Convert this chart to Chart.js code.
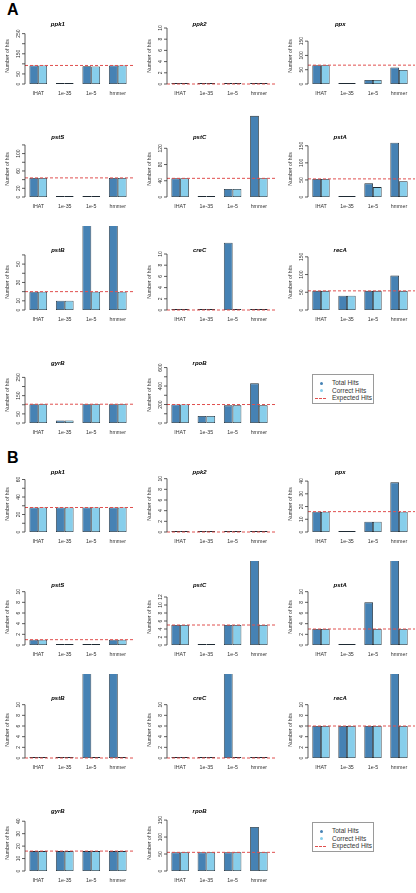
<!DOCTYPE html>
<html>
<head>
<meta charset="utf-8">
<script src="https://cdn.jsdelivr.net/npm/chart.js@4.4.0/dist/chart.umd.min.js"></script>
<style>
  body { margin: 0; background: #fff; width: 416px; height: 893px; position: relative; overflow: hidden;
         font-family: "Liberation Sans", Arial, sans-serif; }
  canvas { position: absolute; }
  .panel { position: absolute; font-weight: bold; font-size: 16px; line-height: 16px; color: #000; }
  .legend { position: absolute; width: 62px; height: 30px; border: 1px solid #9a9a9a; box-sizing: border-box;
            font-size: 6.5px; color: #333; }
  .legend div { position: absolute; left: 19px; line-height: 7px; white-space: nowrap; }
  .legend span { position: absolute; }
</style>
</head>
<body>
<div class="panel" style="left:7px;top:2px">A</div>
<div class="panel" style="left:7px;top:450px">B</div>

<script>
// gene panels, left to right, top to bottom
const genes = ['ppk1', 'ppk2', 'ppx', 'pstS', 'pstC', 'pstA', 'pstB', 'creC', 'recA', 'gyrB', 'rpoB'];
const methods = ['IHAT', '1e-35', '1e-5', 'hmmer'];

// panel A
const totalA = [
  [92, 5, 88, 92], [0, 0, 0, 0], [66, 0, 14, 58],
  [44, 0, 0, 44], [46, 0, 20, 200], [53, 0, 40, 159],
  [20, 10, 100, 100], [0, 0, 12, 0], [54, 40, 54, 97],
  [103, 14, 103, 103], [200, 76, 191, 429]
];
const correctA = [
  [92, 5, 87, 92], [0, 0, 0, 0], [66, 0, 14, 49],
  [44, 0, 0, 44], [46, 0, 20, 46], [53, 0, 29, 46],
  [20, 10, 20, 20], [0, 0, 0, 0], [54, 40, 54, 54],
  [103, 14, 103, 103], [200, 76, 191, 191]
];
const expectedA = [92, 0, 66, 44, 46, 53, 20, 0, 54, 103, 200];
const yMaxA = [278, 10, 196, 129, 138, 164, 61, 10, 158, 307, 606];
const yTicksA = [
  [0, 50, 100, 150, 200, 250], [0, 2, 4, 6, 8, 10], [0, 50, 100, 150],
  [0, 20, 40, 60, 80, 100, 120], [0, 40, 80, 120], [0, 50, 100, 150],
  [0, 10, 20, 30, 40, 50, 60], [0, 2, 4, 6, 8, 10], [0, 50, 100, 150],
  [0, 50, 100, 150, 200, 250], [0, 100, 200, 300, 400, 500, 600]
];
const yLabelsA = [
  [0, 50, 150, 250], [0, 2, 4, 6, 8, 10], [0, 50, 100, 150],
  [0, 20, 60, 100], [0, 40, 80, 120], [0, 50, 100, 150],
  [0, 10, 30, 50], [0, 2, 4, 6, 8, 10], [0, 50, 100, 150],
  [0, 50, 150, 250], [0, 200, 400, 600]
];

// panel B
const totalB = [
  [28, 28, 28, 28], [0, 0, 0, 0], [16, 0, 8, 39],
  [1, 0, 0, 1], [5, 0, 5, 30], [3, 0, 8, 30],
  [0, 0, 30, 30], [0, 0, 30, 0], [6, 6, 6, 30],
  [16, 16, 16, 16], [55, 55, 55, 130]
];
const correctB = [
  [28, 28, 28, 28], [0, 0, 0, 0], [16, 0, 8, 16],
  [1, 0, 0, 1], [5, 0, 5, 5], [3, 0, 3, 3],
  [0, 0, 0, 0], [0, 0, 0, 0], [6, 6, 6, 6],
  [16, 16, 16, 16], [55, 55, 55, 55]
];
const expectedB = [28, 0, 16, 1, 5, 3, 0, 0, 6, 16, 55];
const yMaxB = [64, 10.5, 44, 10.5, 14, 10.5, 10.5, 10.5, 10.5, 45, 165];
const yTicksB = [
  [0, 10, 20, 30, 40, 50, 60], [0, 2, 4, 6, 8, 10], [0, 10, 20, 30, 40],
  [0, 2, 4, 6, 8, 10], [0, 2, 4, 6, 8, 10, 12], [0, 2, 4, 6, 8, 10],
  [0, 2, 4, 6, 8, 10], [0, 2, 4, 6, 8, 10], [0, 2, 4, 6, 8, 10],
  [0, 10, 20, 30, 40], [0, 50, 100, 150]
];
const yLabelsB = [
  [0, 20, 40, 60], [0, 2, 4, 6, 8, 10], [0, 10, 20, 30, 40],
  [0, 2, 4, 6, 8, 10], [0, 2, 4, 6, 8, 10, 12], [0, 2, 4, 6, 8, 10],
  [0, 2, 4, 6, 8, 10], [0, 2, 4, 6, 8, 10], [0, 2, 4, 6, 8, 10],
  [0, 10, 20, 30, 40], [0, 50, 100, 150]
];

const legendItems = ['Total Hits', 'Correct Hits', 'Expected Hits'];

// layout (px)
const panelTop = [0, 448];
const rowZero = [84, 197, 310, 423];
const colAxis = [25, 167, 308];
const plotW = [106, 105, 104];

const DARK = '#4682b4', LIGHT = '#87ceeb', RED = '#e0504f', INK = '#333';
const FONT = '"Liberation Sans", Arial, sans-serif';

// R-style axis, labels, title and abline
const rPlot = {
  id: 'rPlot',
  afterDatasetsDraw(chart, args, o) {
    const { ctx, chartArea: a, scales: { y } } = chart;
    const ey = y.getPixelForValue(o.expected);
    ctx.save();
    ctx.strokeStyle = RED;
    ctx.lineWidth = 1;
    ctx.setLineDash([3, 2]);
    ctx.beginPath();
    ctx.moveTo(a.left, ey);
    ctx.lineTo(a.right + 3, ey);
    ctx.stroke();
    ctx.restore();
  },
  afterDraw(chart, args, o) {
    const { ctx, chartArea: a, scales: { x, y } } = chart;
    ctx.save();
    ctx.strokeStyle = INK;
    ctx.lineWidth = 0.8;
    ctx.beginPath();
    ctx.moveTo(a.left, y.getPixelForValue(o.ticks[0]));
    ctx.lineTo(a.left, y.getPixelForValue(o.ticks[o.ticks.length - 1]));
    o.ticks.forEach(v => {
      const p = y.getPixelForValue(v);
      ctx.moveTo(a.left, p);
      ctx.lineTo(a.left - 3, p);
    });
    ctx.stroke();

    ctx.fillStyle = INK;
    ctx.textAlign = 'center';
    ctx.textBaseline = 'middle';
    ctx.font = '5px ' + FONT;
    o.labels.forEach(v => {
      ctx.save();
      ctx.translate(a.left - 6, y.getPixelForValue(v));
      ctx.rotate(-Math.PI / 2);
      ctx.fillText(String(v), 0, 0);
      ctx.restore();
    });

    ctx.font = '5.2px ' + FONT;
    ctx.save();
    ctx.translate(a.left - 17, (a.top + a.bottom) / 2);
    ctx.rotate(-Math.PI / 2);
    ctx.fillText('Number of hits', 0, 0);
    ctx.restore();

    ctx.font = '5.3px ' + FONT;
    chart.data.labels.forEach((l, i) => {
      ctx.fillText(l, x.getPixelForValue(i), y.getPixelForValue(0) + 10);
    });

    ctx.fillStyle = '#000';
    ctx.font = 'italic bold 6px ' + FONT;
    ctx.fillText(o.title, a.left + 0.31 * (a.right - a.left), a.top - 4);
    ctx.restore();
  }
};

function makeChart(p, g, total, correct, expected, yMax, ticks, labels) {
  const r = Math.floor(g / 3), c = g % 3;
  const cv = document.createElement('canvas');
  cv.width = 25 + plotW[c] + 8;
  cv.height = 84 + 20;
  cv.style.left = (colAxis[c] - 25) + 'px';
  cv.style.top = (panelTop[p] + rowZero[r] - 84) + 'px';
  document.body.appendChild(cv);

  const bar = (label, data, color) => ({
    label: label,
    data: data,
    backgroundColor: color,
    borderColor: '#1e2a33',
    borderWidth: 0.8,
    borderSkipped: false,
    minBarLength: 1,
    categoryPercentage: 2 / 3,
    barPercentage: 1,
    clip: false
  });

  new Chart(cv.getContext('2d'), {
    type: 'bar',
    data: {
      labels: methods,
      datasets: [bar(legendItems[0], total, DARK), bar(legendItems[1], correct, LIGHT)]
    },
    options: {
      responsive: false,
      animation: false,
      events: [],
      layout: { padding: { left: 25, right: 8, top: 28, bottom: 20 } },
      plugins: {
        legend: { display: false },
        tooltip: { enabled: false },
        rPlot: { title: genes[g], expected: expected, ticks: ticks, labels: labels }
      },
      scales: {
        x: { display: false, offset: true },
        y: { display: false, min: 0, max: yMax }
      }
    },
    plugins: [rPlot]
  });
}

function makeLegend(p) {
  const box = document.createElement('div');
  box.className = 'legend';
  box.style.left = '312px';
  box.style.top = (panelTop[p] + 374) + 'px';
  legendItems.forEach((t, i) => {
    const row = document.createElement('div');
    row.style.top = (4 + i * 7.5) + 'px';
    row.textContent = t;
    box.appendChild(row);
    const s = document.createElement('span');
    if (i < 2) {
      s.style.cssText = 'left:7px;top:' + (6.5 + i * 7.5) + 'px;width:3px;height:3px;border-radius:50%;background:' +
        (i === 0 ? DARK : LIGHT);
    } else {
      s.style.cssText = 'left:2px;top:' + (7.5 + i * 7.5) + 'px;width:11px;height:0;border-top:1px dashed ' + RED;
    }
    box.appendChild(s);
  });
  document.body.appendChild(box);
}

genes.forEach((gene, g) => {
  makeChart(0, g, totalA[g], correctA[g], expectedA[g], yMaxA[g], yTicksA[g], yLabelsA[g]);
  makeChart(1, g, totalB[g], correctB[g], expectedB[g], yMaxB[g], yTicksB[g], yLabelsB[g]);
});
makeLegend(0);
makeLegend(1);
</script>
</body>
</html>
